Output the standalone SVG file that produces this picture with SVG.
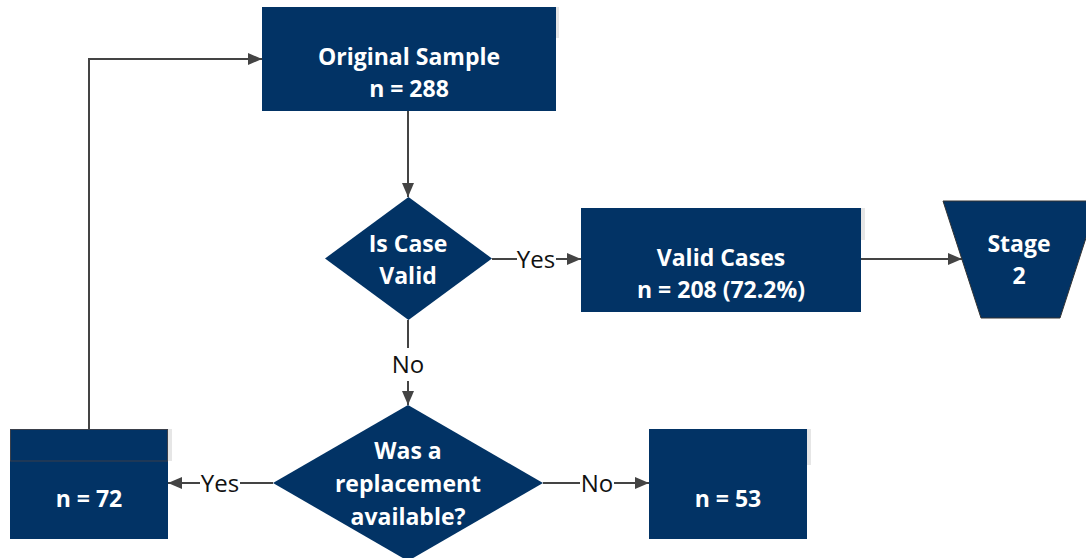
<svg xmlns="http://www.w3.org/2000/svg" width="1086" height="558" viewBox="0 0 1086 558">
  <style>
    .box { fill: #023365; }
    .edge { fill: #e6e6e6; }
    .t { font-family: "Open Sans", "Liberation Sans", sans-serif; font-size: 23px; font-weight: bold; fill: #ffffff; text-anchor: middle; }
    .lbl { font-family: "Open Sans", "Liberation Sans", sans-serif; font-size: 24px; fill: #111111; text-anchor: middle; }
    .ln { fill: none; stroke: #444444; stroke-width: 2; }
  </style>
  <defs>
    <marker id="arr" viewBox="0 0 14 12" refX="14" refY="6" markerWidth="14" markerHeight="12" markerUnits="userSpaceOnUse" orient="auto">
      <path d="M0,0 L14,6 L0,12 Z" fill="#444444"/>
    </marker>
  </defs>

  <rect width="1086" height="558" fill="#ffffff"/>

  <!-- connectors -->
  <g id="connectors">
    <path class="ln" d="M408,111 V197" marker-end="url(#arr)"/>
    <path class="ln" d="M492,259 H517"/>
    <path class="ln" d="M556,259 H581" marker-end="url(#arr)"/>
    <path class="ln" d="M861,259 H962" marker-end="url(#arr)"/>
    <path class="ln" d="M408,320 V348"/>
    <path class="ln" d="M408,381 V405" marker-end="url(#arr)"/>
    <path class="ln" d="M273,483 H240"/>
    <path class="ln" d="M200,483 H168" marker-end="url(#arr)"/>
    <path class="ln" d="M543,483 H580"/>
    <path class="ln" d="M614,483 H649" marker-end="url(#arr)"/>
    <path class="ln" d="M89,429 V59 H262" marker-end="url(#arr)"/>
    <text class="lbl" x="536" y="268">Yes</text>
    <text class="lbl" x="408" y="373">No</text>
    <text class="lbl" x="220" y="492">Yes</text>
    <text class="lbl" x="597" y="492">No</text>
  </g>

  <!-- Original Sample -->
  <g id="original-sample">
    <rect class="edge" x="556" y="7" width="3" height="31"/>
    <rect class="box" x="262" y="7" width="294" height="104"/>
    <text class="t" x="409" y="65">Original Sample</text>
    <text class="t" x="409" y="97">n = 288</text>
  </g>

  <!-- Is Case Valid decision -->
  <g id="is-case-valid">
    <polygon class="box" points="408.5,197 492,258.5 408.5,320 325,258.5"/>
    <text class="t" x="408" y="252">Is Case</text>
    <text class="t" x="408" y="284">Valid</text>
  </g>

  <!-- Valid Cases -->
  <g id="valid-cases">
    <rect class="edge" x="861" y="208" width="4" height="32"/>
    <rect class="box" x="581" y="208" width="280" height="104"/>
    <text class="t" x="721" y="266">Valid Cases</text>
    <text class="t" x="721" y="298">n = 208 (72.2%)</text>
  </g>

  <!-- Stage 2 -->
  <g id="stage-2">
    <polygon class="box" points="943,201 1098,201 1060,318 981,318" stroke="#333333" stroke-width="1"/>
    <text class="t" x="1019" y="252">Stage</text>
    <text class="t" x="1019" y="284">2</text>
  </g>

  <!-- Replacement decision -->
  <g id="replacement-available">
    <polygon class="box" points="408,405 543,483 408,561 273,483"/>
    <text class="t" x="408" y="459">Was a</text>
    <text class="t" x="408" y="492">replacement</text>
    <text class="t" x="408" y="525">available?</text>
  </g>

  <!-- Replaced cases -->
  <g id="n-72">
    <rect class="edge" x="168" y="429" width="4" height="32"/>
    <rect class="box" x="10" y="429" width="158" height="110"/>
    <rect x="10.5" y="429.5" width="157" height="31.5" fill="none" stroke="#3a3f4a" stroke-width="1"/>
    <text class="t" x="89" y="507">n = 72</text>
  </g>

  <!-- Not replaced -->
  <g id="n-53">
    <rect class="edge" x="807" y="429" width="4" height="36"/>
    <rect class="box" x="649" y="429" width="158" height="110"/>
    <text class="t" x="728" y="507">n = 53</text>
  </g>
</svg>
